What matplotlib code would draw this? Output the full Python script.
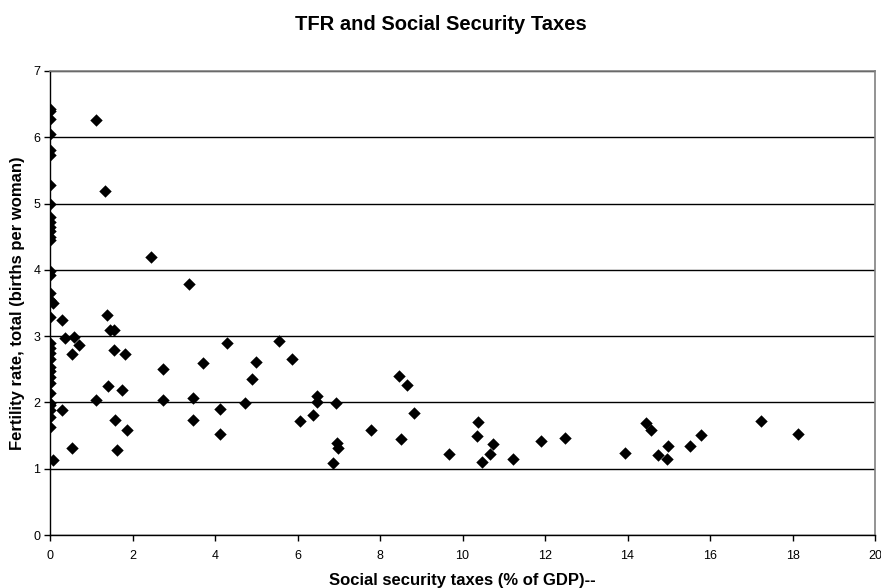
import matplotlib.pyplot as plt

# social security taxes (% of GDP) vs total fertility rate
tax = [
    0, 0, 0, 0, 0, 0, 0, 0, 0, 0, 0, 0, 0, 0, 0, 0, 0, 0, 0, 0.08, 0,
    0, 0, 0, 0, 0, 0, 0, 0, 0, 0, 0, 0, 0, 0.08,
    0.28, 0.36, 0.58, 0.69, 0.53, 0.28, 0.53,
    1.11, 1.39, 1.45, 1.55, 1.55, 1.82, 1.41, 1.74, 1.58, 1.87, 1.62,
    1.12, 1.33, 2.44, 2.75, 2.75, 3.38, 3.47, 3.46,
    3.72, 4.28, 4.12, 4.12, 4.73, 4.89, 5.0, 5.56, 5.87, 6.06, 6.38,
    6.46, 6.46, 6.93, 6.95, 6.99, 6.87, 7.78, 8.45, 8.65, 8.82, 8.50,
    9.68, 10.38, 10.34, 10.73, 10.67, 10.48, 11.22, 11.91, 12.48,
    13.93, 14.44, 14.58, 14.97, 14.75, 14.95, 15.52, 15.78, 17.24, 18.13,
]
tfr = [
    6.43, 6.40, 6.27, 6.05, 5.81, 5.73, 5.28, 4.99, 4.80, 4.72, 4.65,
    4.58, 4.50, 4.45, 3.99, 3.92, 3.65, 3.55, 3.29, 3.50, 2.89,
    2.82, 2.74, 2.66, 2.53, 2.48, 2.39, 2.29, 2.14, 1.96, 1.89, 1.78,
    1.63, 1.99, 1.13,
    3.25, 2.97, 2.98, 2.87, 2.73, 1.89, 1.31,
    2.03, 3.32, 3.09, 3.09, 2.79, 2.73, 2.25, 2.19, 1.73, 1.58, 1.28,
    6.26, 5.19, 4.19, 2.51, 2.03, 3.79, 2.06, 1.73,
    2.60, 2.89, 1.90, 1.53, 1.99, 2.36, 2.61, 2.93, 2.66, 1.72, 1.81,
    2.10, 2.01, 1.99, 1.39, 1.31, 1.08, 1.59, 2.40, 2.26, 1.84, 1.45,
    1.22, 1.71, 1.49, 1.37, 1.22, 1.10, 1.14, 1.42, 1.47,
    1.24, 1.69, 1.59, 1.35, 1.20, 1.15, 1.34, 1.51, 1.72, 1.52,
]
x_ticks = list(range(0, 21, 2))
y_ticks = list(range(0, 8))

plt.rcParams["font.family"] = ["Liberation Sans", "DejaVu Sans"]

fig = plt.figure(figsize=(8.81, 5.88), dpi=100)
ax = fig.add_axes([0.0568, 0.0901, 0.9364, 0.7892])

ax.scatter(tax, tfr, marker="D", s=40, color="black", linewidths=0, zorder=3)

ax.set_xlim(0, 20)
ax.set_ylim(0, 7)
ax.set_xticks(x_ticks)
ax.set_yticks(y_ticks)
ax.yaxis.grid(True, color="black", linewidth=1)
ax.set_axisbelow(True)
ax.tick_params(labelsize=9, length=4, width=1, color="black", direction="out")
ax.tick_params(axis="x", pad=7)
ax.tick_params(axis="y", pad=3)

for side in ("top", "right"):
    ax.spines[side].set_color("#808080")
    ax.spines[side].set_linewidth(1.2)
for side in ("left", "bottom"):
    ax.spines[side].set_color("black")
    ax.spines[side].set_linewidth(1)

ax.set_xlabel("Social security taxes (% of GDP)--", fontsize=12, fontweight="bold", labelpad=8)
ax.set_ylabel("Fertility rate, total (births per woman)", fontsize=12, fontweight="bold", labelpad=6)
fig.suptitle("TFR and Social Security Taxes", fontsize=14.5, fontweight="bold", y=0.975)

fig.savefig("out.png", dpi=100)
